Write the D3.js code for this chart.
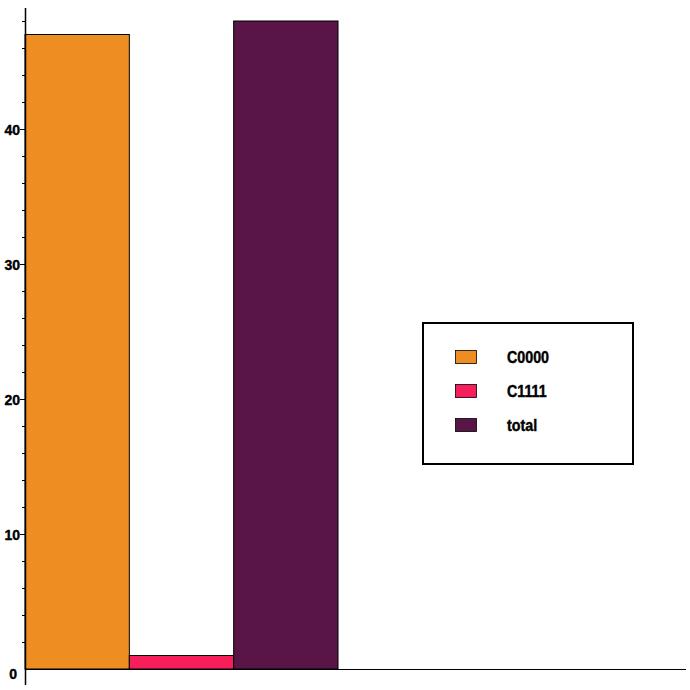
<!DOCTYPE html>
<html><head><meta charset="utf-8">
<script src="https://cdn.jsdelivr.net/npm/d3@7"></script>
<style>body{margin:0;background:#fff}svg{display:block}
text{font-family:"Liberation Sans Narrow","Arial Narrow","Liberation Sans",Arial,sans-serif;font-weight:bold}</style>
</head><body><svg id="c" width="690" height="690"></svg>
<script>
const categories = ["C0000", "C1111", "total"];
const values = [47, 1, 48];
const colors = ["#EE8E22", "#F71E5C", "#581546"];
const yTicks = [0, 10, 20, 30, 40];

const svg = d3.select("#c");
const x0 = 25, x1 = 686, yZero = 669;
const y = d3.scaleLinear().domain([0, 10]).range([yZero, yZero - 135]);
const x = d3.scaleBand().domain(categories).range([x0, x0 + 313]).padding(0);

svg.selectAll("rect.bar").data(categories).join("rect")
  .attr("class", "bar")
  .attr("x", d => x(d)).attr("width", x.bandwidth())
  .attr("y", (d, i) => y(values[i])).attr("height", (d, i) => y(0) - y(values[i]))
  .attr("fill", (d, i) => colors[i]).attr("stroke", "#000").attr("stroke-width", 1);

// x axis
svg.append("line").attr("x1", x0).attr("x2", x1).attr("y1", yZero + 0.5).attr("y2", yZero + 0.5)
  .attr("stroke", "#000").attr("stroke-width", 1);
// y axis line
svg.append("line").attr("x1", x0 + 0.5).attr("x2", x0 + 0.5).attr("y1", 8).attr("y2", 685)
  .attr("stroke", "#000").attr("stroke-width", 1.5);

// minor ticks
const minor = d3.range(2, 49, 2).filter(v => v % 10 !== 0);
svg.selectAll("line.minor").data(minor).join("line")
  .attr("x1", x0 - 3).attr("x2", x0).attr("y1", d => y(d) + 0.5).attr("y2", d => y(d) + 0.5)
  .attr("stroke", "#000");
svg.selectAll("line.major").data(yTicks.filter(v => v > 0)).join("line")
  .attr("x1", x0 - 5).attr("x2", x0).attr("y1", d => y(d) + 0.5).attr("y2", d => y(d) + 0.5)
  .attr("stroke", "#000");
svg.selectAll("text.tl").data(yTicks).join("text")
  .attr("x", d => d === 0 ? 17 : 20).attr("y", d => d === 0 ? y(d) + 5 : y(d) + 1)
  .attr("dy", "0.35em").attr("text-anchor", "end")
  .attr("font-size", 14).attr("stroke", "#000").attr("stroke-width", 0.4)
  .text(d => d);

// legend
const lg = svg.append("g");
lg.append("rect").attr("x", 423).attr("y", 323).attr("width", 210).attr("height", 141)
  .attr("fill", "#fff").attr("stroke", "#000").attr("stroke-width", 2);
categories.forEach((c, i) => {
  const yy = 357 + i * 34;
  lg.append("rect").attr("x", 455.5).attr("y", yy - 6.5).attr("width", 21).attr("height", 13)
    .attr("fill", colors[i]).attr("stroke", "#000").attr("stroke-width", 0.8);
  const t = lg.append("text").attr("x", 0).attr("y", 0).attr("dy", "0.35em")
    .attr("font-size", 17).attr("stroke", "#000").attr("stroke-width", 0.45).text(c);
  t.attr("transform", `translate(507,${yy}) scale(0.84,1)`);
});
</script></body></html>
